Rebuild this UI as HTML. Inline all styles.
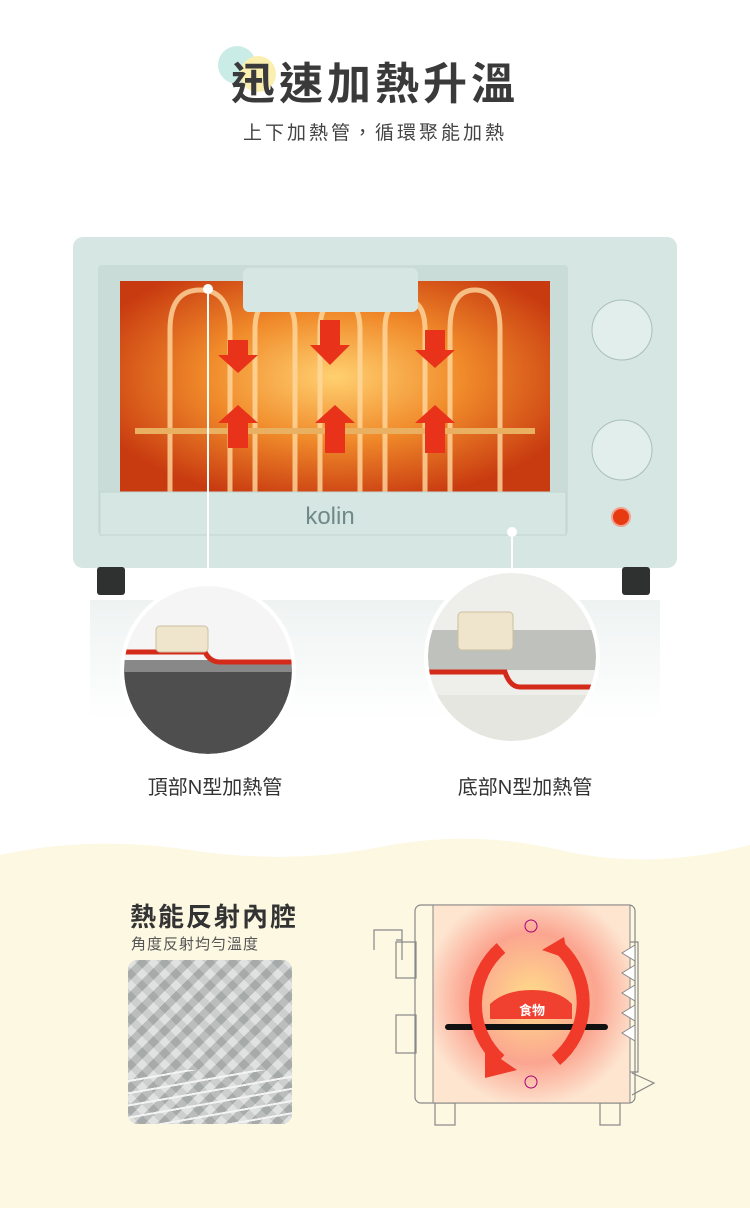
<!DOCTYPE html>
<html><head><meta charset="utf-8"><style>
body{margin:0;width:750px;height:1208px;background:#fff;position:relative;overflow:hidden;font-family:"Liberation Sans","Noto Sans CJK TC",sans-serif;}
.a{position:absolute}
</style></head><body>
<div class="a" style="left:218px;top:46px;width:38px;height:38px;border-radius:50%;background:#c9ece6"></div>
<div class="a" style="left:240px;top:56px;width:36px;height:36px;border-radius:50%;background:#fbefb0"></div>
<div class="a" style="left:0;top:58px;width:750px;text-align:center;font-size:44px;font-weight:bold;color:#3a3a3a;letter-spacing:4px;line-height:54px">迅速加熱升溫</div>
<div class="a" style="left:0;top:118px;width:750px;text-align:center;font-size:19px;color:#444;letter-spacing:3px">上下加熱管，循環聚能加熱</div>

<svg class="a" style="left:0;top:0" width="750" height="850">
<defs>
<radialGradient id="g1" cx="0.5" cy="0.45" r="0.6"><stop offset="0" stop-color="#ffd070"/><stop offset="0.5" stop-color="#f08a2a"/><stop offset="1" stop-color="#c83a10"/></radialGradient>
<clipPath id="c1"><circle cx="208" cy="670" r="84"/></clipPath>
<clipPath id="c2"><circle cx="512" cy="657" r="84"/></clipPath>
<linearGradient id="rf" x1="0" y1="0" x2="0" y2="1"><stop offset="0" stop-color="#eef3f2"/><stop offset="1" stop-color="#fff"/></linearGradient>
</defs>
<rect x="90" y="600" width="570" height="120" fill="url(#rf)"/>
<rect x="73" y="237" width="604" height="331" rx="10" fill="#d6e6e3"/>
<rect x="98" y="265" width="470" height="270" rx="4" fill="#c9dcd8"/>
<rect x="120" y="281" width="430" height="213" fill="url(#g1)"/>
<g stroke="#ffd9a0" stroke-width="5" fill="none" opacity="0.8">
<path d="M170 494 V330 Q170 290 200 290 Q230 290 230 330 V494"/>
<path d="M255 494 V330 Q255 300 275 300 Q295 300 295 330 V494"/>
<path d="M320 494 V330 Q320 300 340 300 Q360 300 360 330 V494"/>
<path d="M385 494 V330 Q385 300 405 300 Q425 300 425 330 V494"/>
<path d="M450 494 V330 Q450 290 475 290 Q500 290 500 330 V494"/>
</g>
<rect x="135" y="428" width="400" height="6" fill="#e8b060"/>
<g fill="#e8321a">
<path d="M228 340h20v15h10l-20 18-20-18h10z"/><path d="M320 320h20v25h10l-20 20-20-20h10z"/><path d="M425 330h20v20h10l-20 18-20-18h10z"/>
<path d="M238 405l20 18h-10v25h-20v-25h-10z"/><path d="M335 405l20 18h-10v30h-20v-30h-10z"/><path d="M435 405l20 18h-10v30h-20v-30h-10z"/>
</g>
<rect x="243" y="268" width="175" height="44" rx="6" fill="#d6e6e3"/>
<rect x="100" y="492" width="466" height="43" fill="#d6e6e3" stroke="#c3d5d1"/>
<text x="330" y="524" font-size="24" fill="#6f8a88" text-anchor="middle" font-family="Liberation Sans">kolin</text>
<circle cx="622" cy="330" r="30" fill="#e2eeeb" stroke="#a9bfbb"/><circle cx="622" cy="450" r="30" fill="#e2eeeb" stroke="#a9bfbb"/>
<circle cx="621" cy="517" r="9" fill="#e83a10" stroke="#f2a090" stroke-width="2"/>
<rect x="97" y="567" width="28" height="28" rx="3" fill="#2e3130"/><rect x="622" y="567" width="28" height="28" rx="3" fill="#2e3130"/>
<line x1="208" y1="289" x2="208" y2="586" stroke="#fff" stroke-width="2"/><circle cx="208" cy="289" r="5" fill="#fff"/>
<line x1="512" y1="532" x2="512" y2="572" stroke="#fff" stroke-width="2"/><circle cx="512" cy="532" r="5" fill="#fff"/>
<g clip-path="url(#c1)">
<rect x="120" y="580" width="180" height="180" fill="#f4f5f4"/>
<rect x="120" y="670" width="180" height="90" fill="#4e4e4e"/>
<rect x="120" y="660" width="180" height="12" fill="#888"/>
<path d="M120 652h85q5 10 15 10h80" stroke="#d42a1a" stroke-width="5" fill="none"/>
<rect x="156" y="626" width="52" height="26" rx="4" fill="#efe5cd" stroke="#cdbfa0"/>
</g>
<circle cx="208" cy="670" r="86" fill="none" stroke="#fff" stroke-width="4"/>
<g clip-path="url(#c2)">
<rect x="425" y="570" width="180" height="180" fill="#eeeeea"/>
<rect x="425" y="630" width="180" height="40" fill="#bfc1bd"/>
<rect x="425" y="695" width="180" height="60" fill="#e6e6e0"/>
<path d="M425 672h80q5 15 15 15h80" stroke="#d42a1a" stroke-width="5" fill="none"/>
<rect x="458" y="612" width="55" height="38" rx="4" fill="#efe5cd" stroke="#cdbfa0"/>
</g>
<circle cx="512" cy="657" r="86" fill="none" stroke="#fff" stroke-width="4"/>
</svg>
<div class="a" style="left:110px;top:771px;width:210px;text-align:center;font-size:20px;color:#333">頂部N型加熱管</div>
<div class="a" style="left:420px;top:771px;width:210px;text-align:center;font-size:20px;color:#333">底部N型加熱管</div>

<svg class="a" style="left:0;top:835px" width="750" height="373">
<path d="M0 20 Q90 0 190 15 T380 12 T560 15 T750 10 V373 H0Z" fill="#fcf8e2"/>
</svg>
<div class="a" style="left:130px;top:897px;font-size:26px;font-weight:bold;color:#333;letter-spacing:2px">熱能反射內腔</div>
<div class="a" style="left:131px;top:933px;font-size:15px;color:#555;letter-spacing:1px">角度反射均勻溫度</div>
<div class="a" style="left:128px;top:960px;width:164px;height:164px;border-radius:10px;overflow:hidden;background:#c4c8c7">
<div style="position:absolute;inset:0;background:repeating-linear-gradient(45deg,#e4e6e5 0 8px,#a9adac 8px 16px);opacity:.55"></div>
<div style="position:absolute;inset:0;background:repeating-linear-gradient(-45deg,#eef0ef 0 8px,#8f9493 8px 16px);opacity:.4"></div>
<div style="position:absolute;left:0;right:0;top:110px;height:54px;background:repeating-linear-gradient(170deg,transparent 0 10px,#f3f3f3 10px 12px)"></div>
</div>

<svg class="a" style="left:360px;top:890px" width="310" height="250">
<defs><radialGradient id="h" cx="0.5" cy="0.47" r="0.55"><stop offset="0" stop-color="#ffdc8a"/><stop offset="0.6" stop-color="#fba590"/><stop offset="1" stop-color="#fde5d0"/></radialGradient></defs>
<g fill="none" stroke="#888" stroke-width="1.2">
<rect x="55" y="15" width="220" height="198" rx="6"/>
<path d="M14 60V40h28v15M36 50h6v20"/><rect x="36" y="52" width="20" height="36"/><rect x="36" y="125" width="20" height="38"/>
<rect x="75" y="213" width="20" height="22"/><rect x="240" y="213" width="20" height="22"/>
<path d="M270 52h8v130h-8M272 183l22 10-22 12"/>
</g>
<rect x="73" y="15" width="197" height="198" fill="url(#h)" stroke="#888"/>
<circle cx="171" cy="36" r="6" fill="none" stroke="#a07"/><circle cx="171" cy="192" r="6" fill="none" stroke="#a07"/>
<path d="M130 114 Q145 100 172 100 Q199 100 212 114 V129 H130Z" fill="#f04030"/>
<text x="172" y="125" font-size="13" fill="#fff" text-anchor="middle" font-weight="bold">食物</text>
<line x1="88" y1="137" x2="245" y2="137" stroke="#111" stroke-width="6" stroke-linecap="round"/>
<g fill="none" stroke="#f03a2a" stroke-width="13">
<path d="M141 58 A75 75 0 0 0 140 170"/><path d="M196 170 A75 75 0 0 0 200 58"/>
</g>
<path d="M125 158 l32 22 -32 8z" fill="#f03a2a"/><path d="M182 60 l22-13 4 22z" fill="#f03a2a"/>
<g fill="#fff" stroke="#888"><path d="M275 55l-13 8 13 8zM275 75l-13 8 13 8zM275 95l-13 8 13 8zM275 115l-13 8 13 8zM275 135l-13 8 13 8z"/></g>
</svg>
</body></html>
